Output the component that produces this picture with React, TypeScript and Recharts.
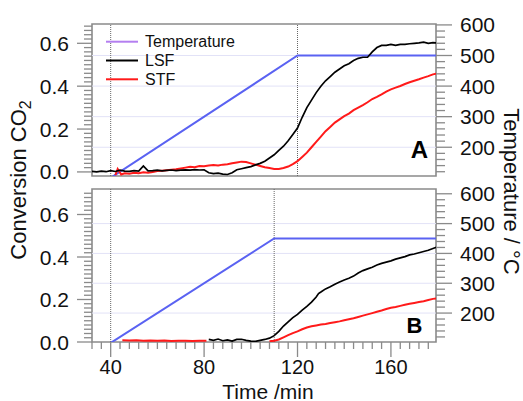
import React from 'react';
import { LineChart, Line, XAxis, YAxis, ReferenceLine, ReferenceArea } from 'recharts';

const FONT = '"Liberation Sans", Arial, Helvetica, sans-serif';

// ---------- data (time in min, conversion, temperature in °C) ----------
const tempA: [number, number][] = [[40, 100], [120, 500], [180, 500]];
const tempB: [number, number][] = [[40, 100], [110, 450], [180, 450]];

const lsfA: [number, number][] = [
  [32, 0.003], [34, 0.0], [36, 0.004], [38, 0.001], [40, 0.006], [42, 0.002], [44, 0.008], [46, 0.004],
  [48, 0.003], [50, 0.006], [52, 0.004], [54, 0.028], [56, 0.005], [58, 0.006], [60, 0.008], [62, 0.005],
  [64, 0.007], [66, 0.009], [68, 0.006], [70, 0.008], [72, 0.01], [74, 0.008], [76, 0.011], [78, 0.009],
  [80, 0.01], [82, -0.004], [84, -0.008], [86, -0.006], [88, -0.01], [90, -0.012], [92, -0.004], [94, 0.01],
  [96, 0.015], [98, 0.02], [100, 0.025], [102, 0.033], [104, 0.04], [106, 0.05], [108, 0.065], [110, 0.08],
  [112, 0.1], [114, 0.12], [116, 0.145], [118, 0.175], [120, 0.205], [122, 0.255], [124, 0.3], [126, 0.335],
  [128, 0.37], [130, 0.4], [132, 0.425], [134, 0.445], [136, 0.465], [138, 0.48], [140, 0.495], [142, 0.505],
  [144, 0.52], [146, 0.53], [148, 0.535], [150, 0.535], [152, 0.56], [154, 0.58], [156, 0.59], [158, 0.59],
  [160, 0.595], [162, 0.59], [164, 0.595], [166, 0.595], [168, 0.598], [170, 0.6], [172, 0.602], [174, 0.605],
  [176, 0.6], [178, 0.603], [180, 0.602],
];

const stfA: [number, number][] = [
  [42, -0.015], [43, 0.014], [44.5, -0.012], [46, -0.006], [48, -0.008], [50, -0.004], [52, -0.006], [54, -0.002],
  [56, -0.004], [58, 0.0], [60, 0.004], [62, 0.006], [64, 0.008], [66, 0.01], [68, 0.012], [70, 0.016],
  [72, 0.02], [74, 0.024], [76, 0.022], [78, 0.028], [80, 0.026], [82, 0.03], [84, 0.032], [86, 0.03],
  [88, 0.034], [90, 0.036], [92, 0.04], [94, 0.044], [96, 0.048], [98, 0.046], [100, 0.04], [102, 0.034],
  [104, 0.028], [106, 0.022], [108, 0.018], [110, 0.014], [112, 0.014], [114, 0.018], [116, 0.025], [118, 0.036],
  [120, 0.05], [122, 0.07], [124, 0.09], [126, 0.115], [128, 0.14], [130, 0.165], [132, 0.19], [134, 0.21],
  [136, 0.23], [138, 0.245], [140, 0.26], [142, 0.272], [144, 0.288], [146, 0.3], [148, 0.312], [150, 0.325],
  [152, 0.34], [154, 0.35], [156, 0.362], [158, 0.375], [160, 0.385], [162, 0.393], [164, 0.401], [166, 0.41],
  [168, 0.418], [170, 0.425], [172, 0.432], [174, 0.44], [176, 0.447], [178, 0.455], [180, 0.46],
];

const lsfB: [number, number][] = [
  [82, 0.012], [84, 0.008], [86, 0.014], [88, 0.006], [90, 0.01], [92, 0.004], [94, 0.012], [96, 0.013],
  [98, 0.008], [100, 0.004], [102, 0.003], [104, 0.008], [106, 0.012], [108, 0.018], [110, 0.03], [112, 0.05],
  [114, 0.075], [116, 0.095], [118, 0.115], [120, 0.13], [122, 0.15], [124, 0.168], [126, 0.188], [128, 0.212],
  [129, 0.228], [130, 0.235], [132, 0.25], [134, 0.26], [136, 0.272], [138, 0.282], [140, 0.292], [142, 0.3],
  [144, 0.31], [146, 0.325], [148, 0.336], [150, 0.344], [152, 0.352], [154, 0.362], [156, 0.37], [158, 0.376],
  [160, 0.382], [162, 0.39], [164, 0.396], [166, 0.402], [168, 0.41], [170, 0.414], [172, 0.42], [174, 0.426],
  [176, 0.432], [178, 0.44], [180, 0.448],
];

const stfB: [number, number | null][] = [
  [45, 0.008], [48, 0.007], [51, 0.008], [54, 0.006], [57, 0.007], [60, 0.006], [63, 0.007], [66, 0.005],
  [69, 0.006], [72, 0.006], [75, 0.005], [78, 0.006], [81, 0.006], [95, null],
  [108, 0.003], [110, 0.006], [112, 0.012], [114, 0.022], [116, 0.032], [118, 0.042], [120, 0.05], [122, 0.06],
  [124, 0.068], [126, 0.074], [128, 0.078], [130, 0.082], [132, 0.085], [134, 0.089], [136, 0.093], [138, 0.097],
  [140, 0.102], [142, 0.107], [144, 0.112], [146, 0.118], [148, 0.124], [150, 0.13], [152, 0.136], [154, 0.142],
  [156, 0.148], [158, 0.155], [160, 0.161], [162, 0.165], [164, 0.17], [166, 0.175], [168, 0.18], [170, 0.184],
  [172, 0.188], [174, 0.192], [176, 0.198], [178, 0.203], [180, 0.206],
];

// ---------- axis / tick values ----------
const timeDomain: [number, number] = [32, 179.3];
const timeMajor = [40, 80, 120, 160];
const convMajor = [0, 0.2, 0.4, 0.6];
const tempMajor = [200, 300, 400, 500, 600];
const gridTemps = [200, 300, 400, 500];
const convDomainA: [number, number] = [-0.019, 0.69];
const convDomainB: [number, number] = [0, 0.72];
const tempDomainA: [number, number] = [106, 603];
const tempDomainB: [number, number] = [103, 616];
const markerLinesA = [40, 120];
const markerLinesB = [40, 110];

const legendLabels = ['Temperature', 'LSF', 'STF'];
const legendColors = ['#b47ff0', '#000000', '#ff1a1a'];

const TEMP_COLOR = '#5a62f2';
const LSF_COLOR = '#000000';
const STF_COLOR = '#ff1a1a';
const AXIS_GRAY = '#8a8a8a';

function range(a: number, b: number, step: number) {
  const out: number[] = [];
  for (let i = 0; a + i * step <= b + 1e-9; i++) out.push(+(a + i * step).toFixed(4));
  return out;
}
const timeTicks = range(32, 176, 4);
const convTicksA = range(0, 0.68, 0.02);
const convTicksB = range(0, 0.7, 0.02);
const tempTicksA = range(120, 600, 20);
const tempTicksB = range(120, 600, 20);

const isMajor = (v: number, list: number[]) => list.some((m) => Math.abs(m - v) < 1e-6);

const toPts = (arr: [number, number | null][]) => arr.map(([t, v]) => ({ t, v }));

const LeftTick = (props: any) => {
  const x = Number(props.x);
  const y = Number(props.y);
  const v = props.payload.value;
  const major = isMajor(v, convMajor);
  const len = major ? 15 : 8;
  return (
    <g>
      <path d={`M${x - len},${y}H${x}`} stroke={AXIS_GRAY} strokeWidth={1.3} fill="none" />
      {major && (
        <text x={x - 23} y={y} dy="0.36em" textAnchor="end" fontSize={21} fontFamily={FONT} fill="#111">
          {v.toFixed(1)}
        </text>
      )}
    </g>
  );
};

const RightTick = (props: any) => {
  const x = Number(props.x);
  const y = Number(props.y);
  const v = props.payload.value;
  const major = isMajor(v, tempMajor);
  const len = major ? 16 : 9;
  return (
    <g>
      <path d={`M${x},${y}H${x + len}`} stroke={AXIS_GRAY} strokeWidth={1.3} fill="none" />
      {major && (
        <text x={x + 24} y={y} dy="0.36em" textAnchor="start" fontSize={21} fontFamily={FONT} fill="#111">
          {v}
        </text>
      )}
    </g>
  );
};

const BottomTick = (props: any) => {
  const x = Number(props.x);
  const y = Number(props.y);
  const v = props.payload.value;
  const major = isMajor(v, timeMajor);
  const len = major ? 15 : 7;
  return (
    <g>
      <path d={`M${x},${y}V${y + len}`} stroke={AXIS_GRAY} strokeWidth={1.3} fill="none" />
      {major && (
        <text x={x} y={y + 32} textAnchor="middle" fontSize={20} fontFamily={FONT} fill="#111">
          {v}
        </text>
      )}
    </g>
  );
};

function Panel(props: {
  top: number;
  height: number;
  margin: { top: number; right: number; bottom: number; left: number };
  showX: boolean;
  lsf: [number, number][];
  stf: [number, number | null][];
  temp: [number, number][];
  convDomain: [number, number];
  tempDomain: [number, number];
  convTicks: number[];
  tempTicks: number[];
  markers: number[];
}) {
  const { top, height, margin, showX, lsf, stf, temp, convDomain, tempDomain, convTicks, tempTicks, markers } = props;
  return (
    <div style={{ position: 'absolute', left: 0, top, width: 523, height }}>
      <LineChart width={523} height={height} margin={margin} style={{ overflow: 'visible' }}>
        <XAxis
          dataKey="t"
          type="number"
          domain={timeDomain}
          allowDataOverflow
          ticks={timeTicks}
          interval={0}
          hide={!showX}
          height={showX ? 59 : 0}
          tickSize={0}
          tickMargin={0}
          axisLine={false}
          tickLine={false}
          tick={(p: any) => <BottomTick {...p} />}
        />
        <YAxis
          yAxisId="c"
          type="number"
          domain={convDomain}
          allowDataOverflow
          ticks={convTicks}
          interval={0}
          width={92}
          tickSize={0}
          tickMargin={0}
          axisLine={false}
          tickLine={false}
          tick={(p: any) => <LeftTick {...p} />}
        />
        <YAxis
          yAxisId="T"
          orientation="right"
          type="number"
          domain={tempDomain}
          allowDataOverflow
          ticks={tempTicks}
          interval={0}
          width={87}
          tickSize={0}
          tickMargin={0}
          axisLine={false}
          tickLine={false}
          tick={(p: any) => <RightTick {...p} />}
        />
        {gridTemps.map((g) => (
          <ReferenceLine key={'g' + g} yAxisId="T" y={g} stroke="#e2e2f7" strokeWidth={1} />
        ))}
        {markers.map((m) => (
          <ReferenceLine key={'m' + m} yAxisId="c" x={m} stroke="#666" strokeWidth={1} strokeDasharray="1 1" />
        ))}
        <Line
          yAxisId="T"
          data={toPts(temp)}
          dataKey="v"
          stroke={TEMP_COLOR}
          strokeWidth={2}
          dot={false}
          isAnimationActive={false}
        />
        <Line
          yAxisId="c"
          data={toPts(stf)}
          dataKey="v"
          stroke={STF_COLOR}
          strokeWidth={2}
          dot={false}
          isAnimationActive={false}
        />
        <Line
          yAxisId="c"
          data={toPts(lsf)}
          dataKey="v"
          stroke={LSF_COLOR}
          strokeWidth={1.7}
          dot={false}
          isAnimationActive={false}
        />
        <ReferenceArea
          yAxisId="c"
          x1={timeDomain[0]}
          x2={timeDomain[1]}
          y1={convDomain[0]}
          y2={convDomain[1]}
          fill="none"
          stroke={AXIS_GRAY}
          strokeWidth={1.6}
          ifOverflow="visible"
        />
      </LineChart>
    </div>
  );
}

export default function App() {
  return (
    <div style={{ position: 'absolute', left: 0, top: 0, width: 523, height: 401, background: '#fff' }}>
      <Panel
        top={0}
        height={182}
        margin={{ top: 24, right: 0, bottom: 6, left: 0 }}
        showX={false}
        lsf={lsfA}
        stf={stfA}
        temp={tempA}
        convDomain={convDomainA}
        tempDomain={tempDomainA}
        convTicks={convTicksA}
        tempTicks={tempTicksA}
        markers={markerLinesA}
      />
      <Panel
        top={182}
        height={219}
        margin={{ top: 7, right: 0, bottom: 0, left: 0 }}
        showX={true}
        lsf={lsfB}
        stf={stfB}
        temp={tempB}
        convDomain={convDomainB}
        tempDomain={tempDomainB}
        convTicks={convTicksB}
        tempTicks={tempTicksB}
        markers={markerLinesB}
      />
      <svg
        width={523}
        height={401}
        style={{ position: 'absolute', left: 0, top: 0, pointerEvents: 'none' }}
      >
        <text
          transform="translate(26,180) rotate(-90)"
          textAnchor="middle"
          fontSize={22}
          fontFamily={FONT}
          fill="#111"
        >
          <tspan>Conversion CO</tspan>
          <tspan fontSize={16} dy={5}>2</tspan>
        </text>
        <text
          transform="translate(504,191.5) rotate(90)"
          textAnchor="middle"
          fontSize={22}
          fontFamily={FONT}
          fill="#111"
        >
          Temperature / °C
        </text>
        <text x={268} y={398.5} textAnchor="middle" fontSize={21} fontFamily={FONT} fill="#111">
          Time /min
        </text>
        <text x={419.5} y={158} textAnchor="middle" fontSize={24} fontWeight="bold" fontFamily={FONT} fill="#000">
          A
        </text>
        <text x={414.5} y={332.5} textAnchor="middle" fontSize={22} fontWeight="bold" fontFamily={FONT} fill="#000">
          B
        </text>
        {legendLabels.map((label, i) => {
          const y = 41.7 + i * 18.8;
          return (
            <g key={label}>
              <line x1={106} x2={138} y1={y} y2={y} stroke={legendColors[i]} strokeWidth={2} />
              <text x={145} y={y} dy="0.36em" fontSize={16} fontFamily={FONT} fill="#111">
                {label}
              </text>
            </g>
          );
        })}
      </svg>
    </div>
  );
}
